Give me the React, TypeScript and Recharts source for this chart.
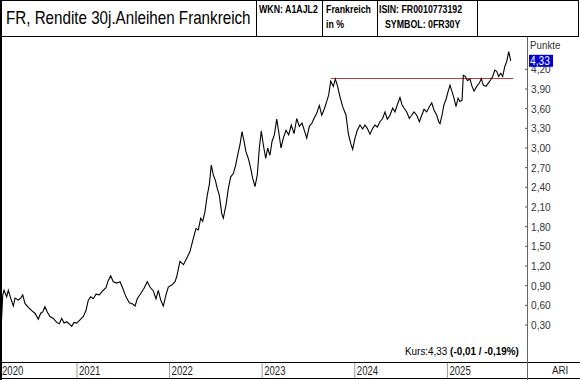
import React from 'react';
import { LineChart, Line, XAxis, YAxis, ReferenceLine } from 'recharts';

// decimal year of each reading
const years = [
  2020.179, 2020.198, 2020.212, 2020.241, 2020.258, 2020.284, 2020.312, 2020.331, 2020.366, 2020.392,
  2020.414, 2020.438, 2020.474, 2020.511, 2020.546, 2020.582, 2020.608, 2020.630, 2020.654, 2020.679,
  2020.708, 2020.744, 2020.781, 2020.809, 2020.835, 2020.860, 2020.889, 2020.914, 2020.943, 2020.968,
  2020.997, 2021.032, 2021.068, 2021.097, 2021.122, 2021.148, 2021.176, 2021.205, 2021.241, 2021.278,
  2021.313, 2021.338, 2021.364, 2021.392, 2021.429, 2021.465, 2021.494, 2021.529, 2021.565, 2021.602,
  2021.627, 2021.651, 2021.688, 2021.724, 2021.759, 2021.788, 2021.824, 2021.853, 2021.878, 2021.904,
  2021.932, 2021.961, 2021.986, 2022.023, 2022.059, 2022.077, 2022.112, 2022.150, 2022.185, 2022.220,
  2022.256, 2022.285, 2022.310, 2022.336, 2022.358, 2022.382, 2022.407, 2022.429, 2022.450, 2022.472,
  2022.494, 2022.515, 2022.537, 2022.563, 2022.580, 2022.609, 2022.634, 2022.660, 2022.688, 2022.714,
  2022.735, 2022.760, 2022.782, 2022.804, 2022.825, 2022.850, 2022.876, 2022.897, 2022.922, 2022.947,
  2022.969, 2022.990, 2023.012, 2023.038, 2023.059, 2023.084, 2023.106, 2023.131, 2023.157, 2023.178,
  2023.203, 2023.228, 2023.257, 2023.286, 2023.314, 2023.344, 2023.373, 2023.401, 2023.430, 2023.459,
  2023.481, 2023.509, 2023.538, 2023.559, 2023.589, 2023.617, 2023.643, 2023.667, 2023.697, 2023.718,
  2023.740, 2023.768, 2023.790, 2023.811, 2023.840, 2023.869, 2023.905, 2023.930, 2023.956, 2023.977,
  2024.002, 2024.027, 2024.056, 2024.085, 2024.110, 2024.135, 2024.164, 2024.193, 2024.218, 2024.243,
  2024.272, 2024.301, 2024.326, 2024.351, 2024.380, 2024.409, 2024.434, 2024.459, 2024.488, 2024.510,
  2024.531, 2024.561, 2024.589, 2024.615, 2024.639, 2024.669, 2024.697, 2024.723, 2024.748, 2024.777,
  2024.805, 2024.831, 2024.855, 2024.885, 2024.906, 2024.920, 2024.942, 2024.963, 2024.985, 2025.007,
  2025.028, 2025.050, 2025.071, 2025.093, 2025.115, 2025.136, 2025.158, 2025.172, 2025.194, 2025.215,
  2025.244, 2025.266, 2025.288, 2025.317, 2025.345, 2025.366, 2025.388, 2025.417, 2025.442, 2025.468,
  2025.489, 2025.511, 2025.533, 2025.554, 2025.576, 2025.597, 2025.619, 2025.641, 2025.662, 2025.684,
];

// 30y yield in %
const yields = [
  0.20, 0.76, 0.83, 0.73, 0.83, 0.71, 0.59, 0.71, 0.68, 0.71,
  0.76, 0.63, 0.57, 0.52, 0.48, 0.39, 0.48, 0.50, 0.58, 0.50,
  0.43, 0.40, 0.34, 0.32, 0.40, 0.33, 0.35, 0.32, 0.28, 0.34,
  0.33, 0.38, 0.43, 0.52, 0.68, 0.73, 0.70, 0.77, 0.76, 0.82,
  0.87, 0.98, 1.05, 0.96, 0.94, 0.96, 0.86, 0.73, 0.64, 0.62,
  0.59, 0.70, 0.78, 0.86, 0.96, 0.88, 0.82, 0.70, 0.83, 0.68,
  0.59, 0.76, 0.88, 0.91, 0.96, 1.04, 1.27, 1.22, 1.32, 1.42,
  1.62, 1.77, 1.75, 1.93, 1.88, 2.03, 2.28, 2.44, 2.74, 2.59,
  2.51, 2.38, 2.28, 2.00, 1.93, 2.13, 2.38, 2.56, 2.61, 2.74,
  2.89, 3.05, 3.25, 3.10, 2.94, 2.84, 2.69, 2.54, 2.41, 2.59,
  3.00, 3.26, 3.05, 2.84, 3.00, 2.89, 3.10, 3.20, 3.44, 3.25,
  3.00, 3.15, 3.27, 3.20, 3.35, 3.22, 3.45, 3.33, 3.38, 3.25,
  3.15, 3.33, 3.38, 3.45, 3.53, 3.65, 3.50, 3.58, 3.71, 3.81,
  4.02, 3.94, 4.05, 3.96, 3.78, 3.63, 3.50, 3.22, 3.07, 2.98,
  3.15, 3.27, 3.35, 3.29, 3.35, 3.30, 3.21, 3.30, 3.35, 3.32,
  3.40, 3.45, 3.55, 3.44, 3.50, 3.61, 3.55, 3.66, 3.77, 3.66,
  3.61, 3.55, 3.45, 3.50, 3.55, 3.50, 3.40, 3.50, 3.59, 3.55,
  3.63, 3.69, 3.58, 3.50, 3.40, 3.37, 3.50, 3.66, 3.74, 3.86,
  3.96, 3.86, 3.76, 3.63, 3.76, 3.71, 3.73, 4.11, 4.09, 4.03,
  4.05, 3.94, 3.87, 3.94, 3.99, 4.06, 3.96, 3.94, 3.99, 4.04,
  4.09, 4.19, 4.17, 4.09, 4.14, 4.09, 4.24, 4.32, 4.47, 4.33,
];

const yTicks = [0.3, 0.6, 0.9, 1.2, 1.5, 1.8, 2.1, 2.4, 2.7, 3.0, 3.3, 3.6, 3.9, 4.2];
const xTicks = [2020.1685, 2021, 2022, 2023, 2024, 2025];
const resistance = { from: 2023.74, to: 2025.71, level: 4.06 };
const lastValue = 4.33;

const data = years.map((t, i) => ({ t, v: yields[i] }));

const FONT = '"Liberation Sans", Arial, sans-serif';
const fmt = (v: number) => v.toFixed(2).replace('.', ',');

const YTick = ({ x, y, payload }: any) => {
  if (payload.value === lastValue) {
    return (
      <g>
        <rect x={x + 2} y={y - 6} width={24} height={12} fill="#0000d4" />
        <text transform={`translate(${x + 3},${y + 4}) scale(0.85,1)`} fontSize={12} fill="#fff" fontFamily={FONT}>{fmt(payload.value)}</text>
      </g>
    );
  }
  return (
    <g>
      <line x1={x - 2} x2={x} y1={y} y2={y} stroke="#555" />
      <text transform={`translate(${x + 4},${y + 4}) scale(0.88,1)`} fontSize={11.5} fill="#333" fontFamily={FONT}>{fmt(payload.value)}</text>
    </g>
  );
};

const XTick = ({ x, y, payload }: any) => (
  <g>
    <line x1={x} x2={x} y1={y} y2={y + 17} stroke="#999" />
    <text transform={`translate(${x + 2},${y + 13}) scale(0.8,1)`} fontSize={12} fill="#222" fontFamily={FONT}>{Math.floor(payload.value)}</text>
  </g>
);

const abs = (s: React.CSSProperties): React.CSSProperties => ({ position: 'absolute', ...s });

const Txt = ({ left, top, size, sx, bold, color, children }: any) => (
  <div
    style={abs({
      left, top, fontSize: size, fontWeight: bold ? 'bold' : 'normal', color: color || '#000',
      whiteSpace: 'nowrap', transform: `scaleX(${sx})`, transformOrigin: 'left top', lineHeight: 1.15,
    })}
  >
    {children}
  </div>
);

export default function App() {
  return (
    <div style={{ position: 'absolute', left: 0, top: 0, width: 580, height: 380, background: '#fff', fontFamily: FONT, overflow: 'hidden' }}>
      <LineChart width={580} height={380} data={data} margin={{ top: 37, right: 0, bottom: 0, left: 0 }}>
        <XAxis
          dataKey="t"
          type="number"
          domain={[2020.1685, 2025.8596]}
          ticks={xTicks}
          interval={0}
          height={18}
          axisLine={false}
          tickLine={false}
          tickSize={0}
          tickMargin={0}
          tick={<XTick />}
          allowDataOverflow
        />
        <YAxis
          orientation="right"
          type="number"
          domain={[-0.264, 4.693]}
          ticks={[...yTicks, lastValue]}
          interval={0}
          width={53}
          axisLine={false}
          tickLine={false}
          tickSize={0}
          tickMargin={0}
          tick={<YTick />}
          allowDataOverflow
        />
        <ReferenceLine
          segment={[{ x: resistance.from, y: resistance.level }, { x: resistance.to, y: resistance.level }]}
          stroke="#c43c3c"
          strokeWidth={1}
        />
        <Line dataKey="v" stroke="#000" strokeWidth={1.1} dot={false} isAnimationActive={false} />
      </LineChart>

      {/* frame */}
      <div style={abs({ left: 0, top: 0, width: 579, height: 1, background: '#000' })} />
      <div style={abs({ left: 0, top: 36, width: 579, height: 1, background: '#000' })} />
      <div style={abs({ left: 0, top: 0, width: 2, height: 380, background: '#000' })} />
      <div style={abs({ left: 578, top: 0, width: 1, height: 37, background: '#000' })} />
      <div style={abs({ left: 0, top: 362, width: 580, height: 1, background: '#000' })} />
      <div style={abs({ left: 0, top: 378, width: 580, height: 1, background: '#000' })} />
      <div style={abs({ left: 527, top: 37, width: 1, height: 343, background: '#666' })} />
      {[256, 322, 377, 477].map((x) => (
        <div key={x} style={abs({ left: x, top: 0, width: 1, height: 37, background: '#000' })} />
      ))}

      {/* header */}
      <Txt left={6} top={7} size={18.5} sx={0.82}>FR, Rendite 30j.Anleihen Frankreich</Txt>
      <Txt left={259} top={3} size={11} sx={0.8} bold>WKN: A1AJL2</Txt>
      <Txt left={326} top={3} size={11} sx={0.8} bold>Frankreich</Txt>
      <Txt left={326} top={18} size={11} sx={0.8} bold>in %</Txt>
      <Txt left={379} top={3} size={11} sx={0.8} bold>ISIN: FR0010773192</Txt>
      <Txt left={385} top={18} size={11} sx={0.8} bold>SYMBOL: 0FR30Y</Txt>

      <Txt left={530} top={39} size={11.5} sx={0.85} color="#333">Punkte</Txt>
      <Txt left={552} top={364} size={11.5} sx={0.85} color="#222">ARI</Txt>
      <Txt left={405} top={345} size={11.5} sx={0.86}>
        Kurs:4,33 <b>(-0,01 / -0,19%)</b>
      </Txt>
    </div>
  );
}
